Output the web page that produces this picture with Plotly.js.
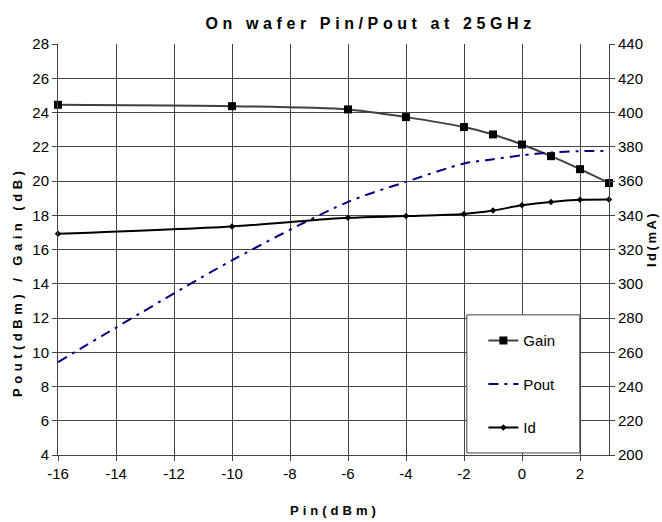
<!DOCTYPE html>
<html>
<head>
<meta charset="utf-8">
<script src="https://cdn.plot.ly/plotly-3.0.1.min.js"></script>
<style>
html,body{margin:0;padding:0;background:#fff;}
#chart{width:662px;height:522px;}
.gtitle{letter-spacing:4.6px;}
.annotation-text{letter-spacing:4.5px;}
.annotation[data-index="0"] .annotation-text{letter-spacing:4px;}
.annotation[data-index="2"] .annotation-text{letter-spacing:2.5px;}
</style>
</head>
<body>
<div id="chart"></div>
<script>
const pin = [-16, -10, -6, -4, -2, -1, 0, 1, 2, 3];
const gain = [24.45, 24.37, 24.18, 23.73, 23.15, 22.72, 22.13, 21.45, 20.69, 19.88];
const pout = [9.42, 15.37, 18.78, 19.95, 21.02, 21.27, 21.5, 21.66, 21.74, 21.76];
const id = [329.2, 333.5, 338.5, 339.5, 340.8, 342.8, 345.8, 347.8, 349.0, 349.2];
const xTicks = [-16, -14, -12, -10, -8, -6, -4, -2, 0, 2];
const xTitle = 'Pin(dBm)';
const yTitle = 'Pout(dBm) / Gain (dB)';
const y2Title = 'Id(mA)';

const tickFont = {family: '"Liberation Sans", Arial, sans-serif', size: 15, color: '#000'};
const titleFont = {family: '"Liberation Sans", Arial, sans-serif', size: 13, color: '#000', weight: 'bold'};

const traces = [
  {x: pin, y: gain, name: 'Gain', type: 'scatter', mode: 'lines+markers', legendgroup: 'g1', cliponaxis: false,
   line: {color: '#404040', width: 2, shape: 'spline', smoothing: 0.8},
   marker: {symbol: 'square', size: 8, color: '#000'}},
  {x: pin, y: pout, name: 'Pout', type: 'scatter', mode: 'lines', legendgroup: 'g2', cliponaxis: false,
   line: {color: '#000080', width: 2, dash: '10px,6px,3px,6px', shape: 'spline', smoothing: 0.8}},
  {x: pin, y: id, name: 'Id', type: 'scatter', mode: 'lines+markers', yaxis: 'y2', legendgroup: 'g3', cliponaxis: false,
   line: {color: '#000', width: 2, shape: 'spline', smoothing: 0.8},
   marker: {symbol: 'diamond', size: 5, color: '#000'}}
];

const layout = {
  width: 662, height: 522,
  margin: {l: 58, r: 53, t: 44, b: 67},
  paper_bgcolor: '#fff', plot_bgcolor: '#fff',
  showlegend: true,
  title: {text: 'On wafer Pin/Pout at 25GHz', x: 0.56, xref: 'container', xanchor: 'center', y: 0.955, yref: 'container', yanchor: 'middle',
          font: {family: '"Liberation Sans", Arial, sans-serif', size: 16, color: '#000', weight: 'bold'}},
  xaxis: {range: [-16, 3], tickvals: xTicks, ticktext: xTicks.map(String), showgrid: true, gridcolor: '#444', gridwidth: 1,
          zeroline: false, showline: true, linecolor: '#444', linewidth: 1, ticks: 'outside', ticklen: 5, tickcolor: '#444',
          tickfont: tickFont, fixedrange: true},
  yaxis: {range: [4, 28], dtick: 2, tick0: 4, showgrid: true, gridcolor: '#444', gridwidth: 1, zeroline: false,
          showline: true, linecolor: '#444', linewidth: 1, ticks: 'outside', ticklen: 5, tickcolor: '#444',
          tickfont: tickFont},
  yaxis2: {range: [200, 440], dtick: 20, tick0: 200, overlaying: 'y', side: 'right', showgrid: false, zeroline: false,
           showline: true, linecolor: '#444', linewidth: 1, ticks: 'outside', ticklen: 5, tickcolor: '#444',
           tickfont: tickFont},
  annotations: [
    {text: xTitle, xref: 'paper', yref: 'paper', x: 0.503, y: -0.136, xanchor: 'center', yanchor: 'middle', showarrow: false, font: titleFont},
    {text: yTitle, xref: 'paper', yref: 'paper', x: -0.0726, y: 0.499, yshift: -32, xanchor: 'center', yanchor: 'middle', textangle: -90, showarrow: false, font: titleFont},
    {text: y2Title, xref: 'paper', yref: 'paper', x: 1.076, y: 0.535, yshift: -4, xanchor: 'center', yanchor: 'middle', textangle: -90, showarrow: false, font: titleFont}
  ],
  legend: {x: 0.772, y: 0.318, xanchor: 'left', yanchor: 'top', bgcolor: 'rgba(0,0,0,0)', borderwidth: 0,
           font: {family: '"Liberation Sans", Arial, sans-serif', size: 15, color: '#000'},
           traceorder: 'grouped', tracegroupgap: 21, itemwidth: 30},
  shapes: [{type: 'rect', xref: 'paper', yref: 'paper', x0: 0.742, x1: 0.947, y0: 0.005, y1: 0.341,
            fillcolor: '#fff', line: {color: '#444', width: 1}, layer: 'above'}]
};

Plotly.newPlot('chart', traces, layout, {displayModeBar: false, staticPlot: true});
</script>
</body>
</html>
